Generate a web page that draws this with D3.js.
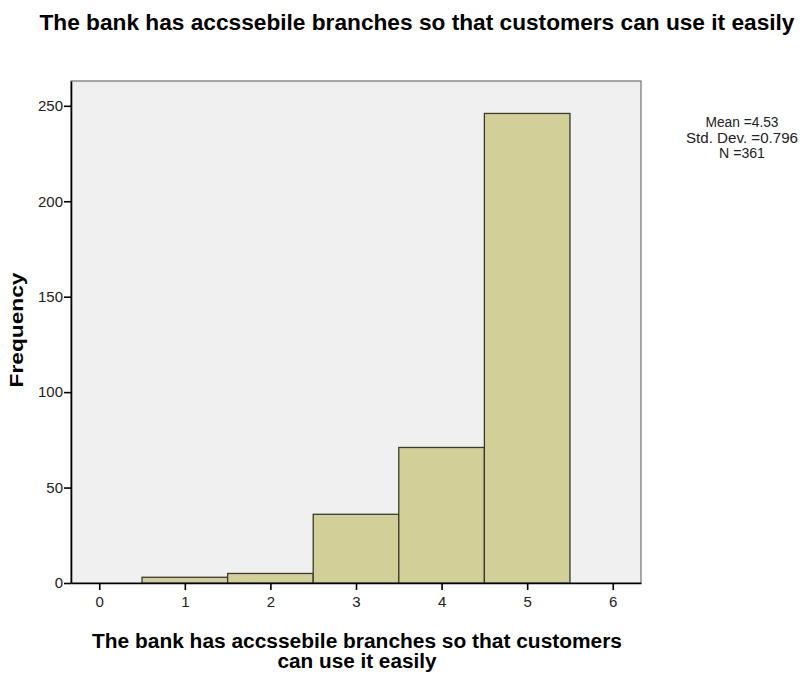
<!DOCTYPE html>
<html>
<head>
<meta charset="utf-8">
<script src="https://cdn.jsdelivr.net/npm/d3@7"></script>
<style>
  body { margin: 0; background: #fff; }
  text { font-family: "Liberation Sans", Arial, sans-serif; }
</style>
</head>
<body>
<div id="chart"></div>
<script>
// bins of the histogram (response values) and their counts
const categories = [1, 2, 3, 4, 5];
const frequencies = [3, 5, 36, 71, 246];
const xTicks = [0, 1, 2, 3, 4, 5, 6];
const yTicks = [0, 50, 100, 150, 200, 250];
const statLines = ["Mean =4.53", "Std. Dev. =0.796", "N =361"];

const titleText = "The bank has accssebile branches so that customers can use it easily";
const xTitleLines = ["The bank has accssebile branches so that customers", "can use it easily"];

let config = {
  width: 803,
  height: 675,
  margin: { top: 81, left: 71, right: 162, bottom: 92 },
  barFill: "#d3cf98",
  barStroke: "#3a3a30",
  plotBg: "#f0f0f0"
};
config.bodyWidth = config.width - config.margin.left - config.margin.right;
config.bodyHeight = config.height - config.margin.top - config.margin.bottom;

const svg = d3.select("#chart").append("svg")
  .attr("width", config.width)
  .attr("height", config.height);

const x = d3.scaleLinear().domain([-0.33, 6.33]).range([0, config.bodyWidth]);
const y = d3.scaleLinear().domain([0, 263]).range([config.bodyHeight, 0]);

const g = svg.append("g")
  .attr("transform", `translate(${config.margin.left},${config.margin.top})`);

// plot background
g.append("rect")
  .attr("x", 0).attr("y", 0)
  .attr("width", config.bodyWidth)
  .attr("height", config.bodyHeight)
  .attr("fill", config.plotBg)
  .attr("stroke", "#555")
  .attr("stroke-width", 1);

// bars
g.selectAll(".bar")
  .data(categories.map((c, i) => ({ c: c, f: frequencies[i] })))
  .enter()
  .append("rect")
  .attr("class", "bar")
  .attr("x", d => x(d.c - 0.5))
  .attr("y", d => y(d.f))
  .attr("width", d => x(d.c + 0.5) - x(d.c - 0.5))
  .attr("height", d => y(0) - y(d.f))
  .attr("fill", config.barFill)
  .attr("stroke", config.barStroke)
  .attr("stroke-width", 1.3);

// axes
const xAxis = g.append("g")
  .attr("transform", `translate(0,${config.bodyHeight})`)
  .call(d3.axisBottom(x).tickValues(xTicks).tickFormat(d3.format("d"))
    .tickSize(7).tickPadding(6).tickSizeOuter(0));
const yAxis = g.append("g")
  .call(d3.axisLeft(y).tickValues(yTicks).tickFormat(d3.format("d"))
    .tickSize(7).tickPadding(1).tickSizeOuter(0));

[xAxis, yAxis].forEach(a => {
  a.select(".domain").attr("stroke", "#000").attr("stroke-width", 1.6);
  a.selectAll(".tick line").attr("stroke", "#000").attr("stroke-width", 1.6);
  a.selectAll(".tick text").attr("font-size", 15).attr("fill", "#222")
    .style("font-family", "'Liberation Sans', Arial, sans-serif");
});

// titles
svg.append("text")
  .attr("x", 417).attr("y", 30)
  .attr("text-anchor", "middle")
  .attr("font-size", 22)
  .attr("font-weight", "bold")
  .attr("textLength", 755)
  .attr("lengthAdjust", "spacingAndGlyphs")
  .text(titleText);

svg.append("text")
  .attr("text-anchor", "middle")
  .attr("font-size", 20)
  .attr("font-weight", "bold")
  .selectAll("tspan")
  .data(xTitleLines)
  .enter()
  .append("tspan")
  .attr("x", 357)
  .attr("y", (d, i) => 648 + i * 20)
  .attr("textLength", (d, i) => i === 0 ? 530 : 159)
  .attr("lengthAdjust", "spacingAndGlyphs")
  .text(d => d);

svg.append("text")
  .attr("transform", "translate(23,330) rotate(-90)")
  .attr("text-anchor", "middle")
  .attr("font-size", 18)
  .attr("font-weight", "bold")
  .attr("textLength", 115)
  .attr("lengthAdjust", "spacingAndGlyphs")
  .text("Frequency");

// summary statistics
svg.append("text")
  .attr("text-anchor", "middle")
  .attr("font-size", 14)
  .attr("fill", "#222")
  .selectAll("tspan")
  .data(statLines)
  .enter()
  .append("tspan")
  .attr("x", 742)
  .attr("y", (d, i) => 127 + i * 15.5)
  .attr("textLength", (d, i) => [73, 112, 46][i])
  .attr("lengthAdjust", "spacingAndGlyphs")
  .text(d => d);
</script>
</body>
</html>
